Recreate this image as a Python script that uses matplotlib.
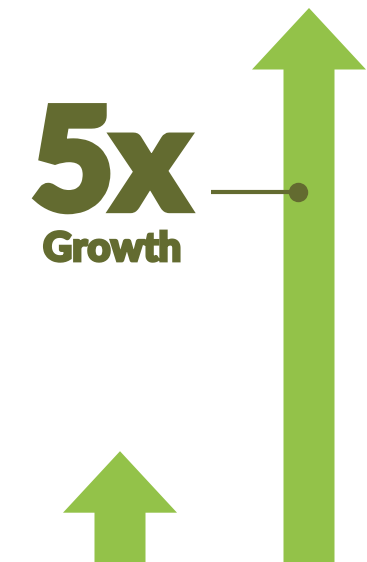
import matplotlib
matplotlib.use("Agg")
import matplotlib.pyplot as plt
from matplotlib.patches import Polygon
import matplotlib.patheffects as pe

# Relative growth shown as arrows
labels = ["Before", "After"]
values = [1, 5]
headline = "5x"
caption = "Growth"

GREEN = "#93c249"
OLIVE = "#636b30"

W, H = 367, 562
fig = plt.figure(figsize=(W / 100, H / 100), dpi=100)
ax = fig.add_axes([0, 0, 1, 1])
ymax = 5 * H / 554
ax.set_xlim(0, W)
ax.set_ylim(0, ymax)
ax.axis("off")

centers = [120, 309]
head_half = 57
shaft_half = 25.5
head_h = 61.5 / 554 * 5

for cx, v in zip(centers, values):
    base = v - head_h
    pts = [
        (cx - shaft_half, 0), (cx - shaft_half, base), (cx - head_half, base),
        (cx, v), (cx + head_half, base), (cx + shaft_half, base),
        (cx + shaft_half, 0),
    ]
    ax.add_patch(Polygon(pts, closed=True, facecolor=GREEN, edgecolor="none"))

def fx(px):
    return px / W

def fy(py):
    return 1 - py / H

ax.text(fx(32), fy(209), headline, transform=ax.transAxes, ha="left", va="baseline",
        fontsize=101, fontfamily="Lato", fontweight="black", color=OLIVE,
        path_effects=[pe.withStroke(linewidth=6, foreground=OLIVE, joinstyle="miter")])
ax.text(fx(43), fy(261), caption, transform=ax.transAxes, ha="left", va="baseline",
        fontsize=29, fontfamily="Lato", fontweight="black", color=OLIVE,
        path_effects=[pe.withStroke(linewidth=2, foreground=OLIVE, joinstyle="miter")])

ax.plot([fx(211), fx(298)], [fy(192), fy(192)], transform=ax.transAxes,
        color=OLIVE, lw=3, solid_capstyle="butt")
ax.plot([fx(298)], [fy(192)], transform=ax.transAxes, marker="o", ms=14,
        color=OLIVE, mec="none")

fig.savefig("out.png", dpi=100)
